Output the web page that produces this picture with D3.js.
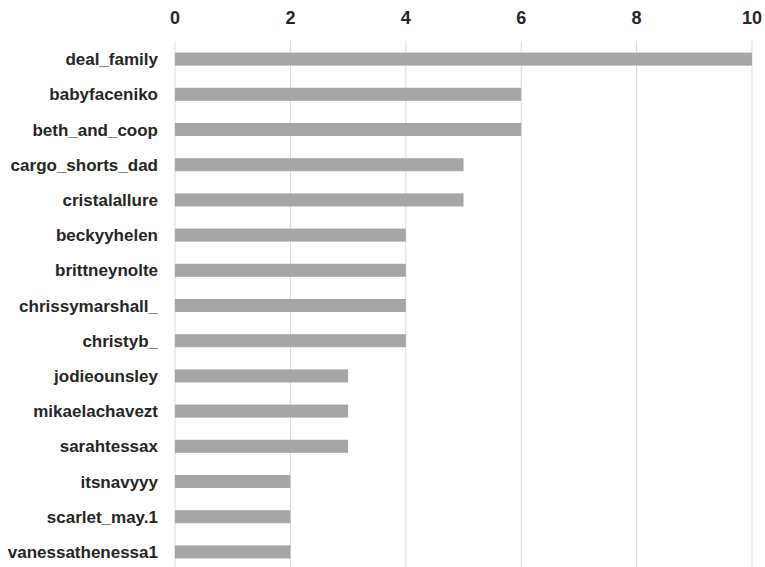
<!DOCTYPE html>
<html>
<head>
<meta charset="utf-8">
<script src="https://cdn.jsdelivr.net/npm/d3@7"></script>
<style>
  body { margin: 0; background: #fff; }
  text { font-family: "Liberation Sans", Arial, sans-serif; font-weight: bold; fill: #262626; }
</style>
</head>
<body>
<div id="chart"></div>
<script>
var names = ["deal_family", "babyfaceniko", "beth_and_coop", "cargo_shorts_dad", "cristalallure",
  "beckyyhelen", "brittneynolte", "chrissymarshall_", "christyb_", "jodieounsley",
  "mikaelachavezt", "sarahtessax", "itsnavyyy", "scarlet_may.1", "vanessathenessa1"];
var counts = [10, 6, 6, 5, 5, 4, 4, 4, 4, 3, 3, 3, 2, 2, 2];
var ticks = [0, 2, 4, 6, 8, 10];

var width = 765, height = 567;
var svg = d3.select("#chart").append("svg").attr("width", width).attr("height", height);

var x = d3.scaleLinear().domain([0, 10]).range([175, 752]);
var y = d3.scaleBand().domain(names).range([41.5, 569.5]).paddingInner(0.63).paddingOuter(0.315);

// gridlines
svg.selectAll("line.grid").data(ticks).enter().append("line")
  .attr("class", "grid")
  .attr("x1", function(d) { return x(d); }).attr("x2", function(d) { return x(d); })
  .attr("y1", 41).attr("y2", height)
  .attr("stroke", "#d9d9d9").attr("stroke-width", 1);

// tick labels on top
svg.selectAll("text.tick").data(ticks).enter().append("text")
  .attr("class", "tick")
  .attr("x", function(d) { return x(d); }).attr("y", 24)
  .attr("text-anchor", "middle")
  .style("font-size", "18px")
  .text(function(d) { return d; });

svg.selectAll("rect.bar").data(names).enter().append("rect")
  .attr("class", "bar")
  .attr("x", x(0))
  .attr("y", function(d) { return y(d); })
  .attr("width", function(d, i) { return x(counts[i]) - x(0); })
  .attr("height", y.bandwidth())
  .attr("fill", "#a6a6a6");

svg.selectAll("text.name").data(names).enter().append("text")
  .attr("class", "name")
  .attr("x", 158)
  .attr("y", function(d) { return y(d) + y.bandwidth() / 2; })
  .attr("dy", "0.36em")
  .attr("text-anchor", "end")
  .style("font-size", "17px")
  .text(function(d) { return d; });
</script>
</body>
</html>
